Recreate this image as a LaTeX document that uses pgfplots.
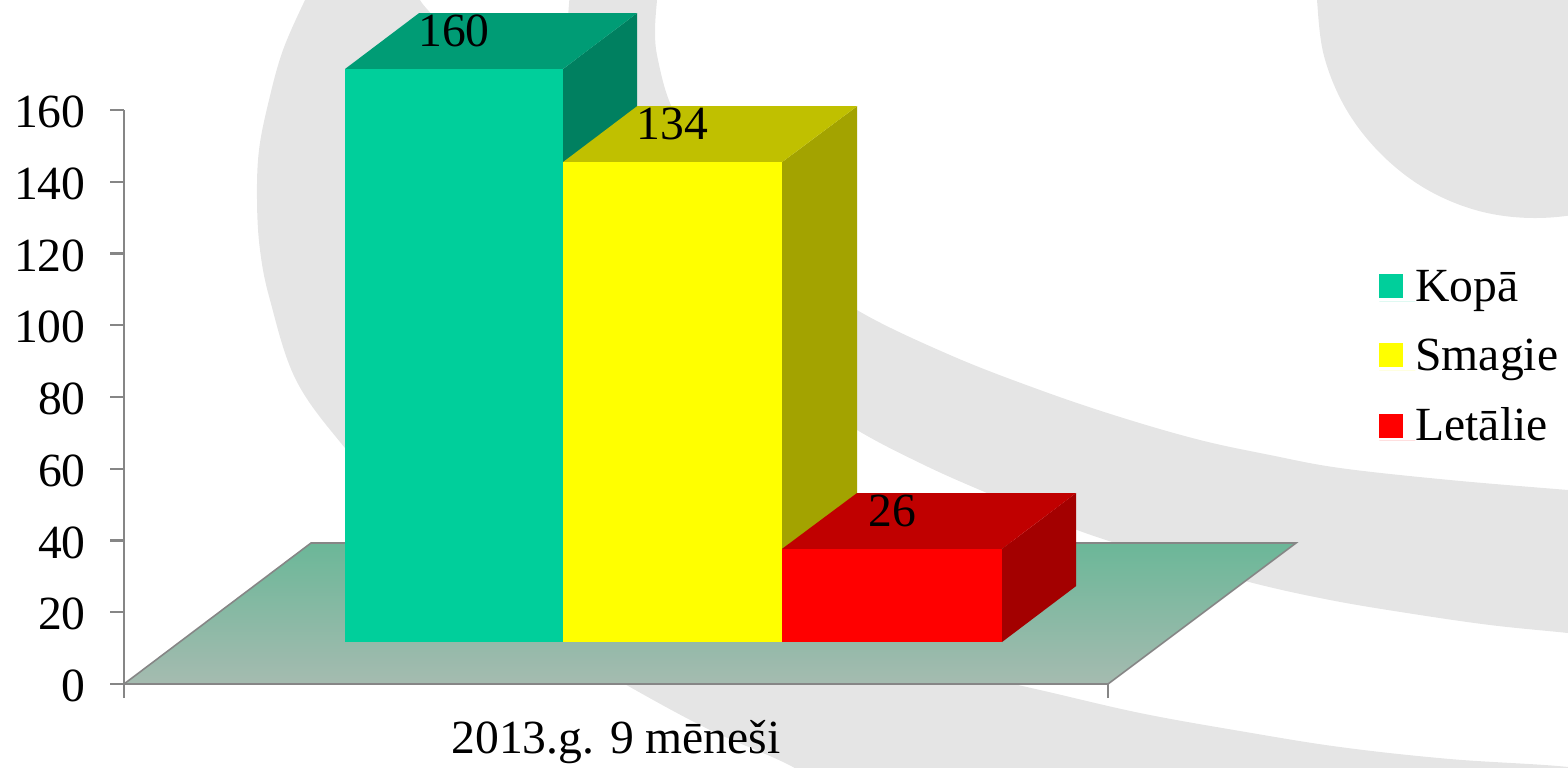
\documentclass[border=0pt]{standalone}
\usepackage{pgfplots}
\usepackage{fontspec}
\setmainfont{Liberation Serif}
\pgfplotsset{compat=1.18}

% colours
\definecolor{bggray}{HTML}{E5E5E5}
\definecolor{axgray}{HTML}{868686}
\definecolor{floortop}{HTML}{6BB798}
\definecolor{floorbot}{HTML}{A5BBB0}
\definecolor{kopa}{HTML}{00CF9B}
\definecolor{kopatop}{HTML}{009C75}
\definecolor{kopaside}{HTML}{008060}
\definecolor{smag}{HTML}{FFFF00}
\definecolor{smagtop}{HTML}{C0C000}
\definecolor{smagside}{HTML}{A3A300}
\definecolor{leta}{HTML}{FF0000}
\definecolor{letatop}{HTML}{C00000}
\definecolor{letaside}{HTML}{A30000}

\begin{document}
\fontsize{23.8}{28}\selectfont
\begin{tikzpicture}
\clip (0,0) rectangle (784pt,383.5pt);

% background swirl, in pixel coordinates of the picture
\begin{axis}[
    at={(0,0)}, anchor=south west, scale only axis,
    width=784pt, height=383.5pt,
    xmin=0, xmax=1568, ymin=0, ymax=767, y dir=reverse,
    axis lines=none, clip=false
  ]
  \addplot[fill=bggray, draw=none, smooth, tension=0.6] coordinates {
    (318,-25) (305,0) (283,50) (269,100) (259,150) (257,200) (260,250) (270,300)
    (296,380) (345,448) (410,520) (480,590) (550,640) (630,687) (710,730) (793,767) (860,810) (1300,830)
    (1620,778) (1568,767) (1450,759) (1340,747) (1240,731) (1140,713) (1040,690) (950,670)
    (800,640) (640,600) (500,300) (450,60) (420,0) (400,-25)} --cycle;
  \addplot[fill=bggray, draw=none, smooth, tension=0.6] coordinates {
    (572,-25) (572,100) (640,220) (700,300) (780,380) (857,430) (920,463) (980,490) (1077,530) (1165,558) (1253,583)
    (1330,600) (1407,613) (1490,625) (1568,633) (1630,640) (1630,495) (1568,490) (1450,480)
    (1340,468) (1270,455) (1200,440) (1120,417) (1040,390) (950,355) (857,310) (790,260) (730,200)
    (695,150) (670,103) (658,60) (655,33) (657,0) (660,-25)} --cycle;
  \addplot[fill=bggray, draw=none, smooth, tension=0.6] coordinates {
    (1317,-25) (1317,0) (1324,56) (1346,109) (1381,154) (1426,189) (1479,211)
    (1535,218) (1591,211) (1644,189) (1660,-25)} --cycle;
\end{axis}

% axes and floor
\begin{axis}[
    at={(62pt,41.5pt)}, anchor=south west, scale only axis,
    width=492pt, height=287pt,
    xmin=124, xmax=1108, ymin=0, ymax=160,
    clip=false,
    axis x line*=bottom, axis y line*=left,
    axis line style={draw=axgray, line width=1.2pt, -},
    tick style={draw=axgray, line width=1.2pt},
    tick align=outside, major tick length=7pt,
    /pgf/number format/assume math mode=true,
    ytick={0,20,...,160},
    xtick={124,1108}, xticklabels={},
    extra x ticks={616}, extra x tick labels={2013.g. 9 mēneši},
    extra x tick style={major tick length=0pt},
    yticklabel style={inner sep=0pt, xshift=-12pt, yshift=-1pt},
    xticklabel style={inner sep=0pt, yshift=-18pt}
  ]
  \addplot[draw=axgray, line width=0.8pt, top color=floortop, bottom color=floorbot]
    coordinates {(124,0) (311,39.3) (1296,39.3) (1108,0)} --cycle;
\end{axis}

% bars, their floor line is 42 px above the axis
\begin{axis}[
    at={(62pt,62.5pt)}, anchor=south west, scale only axis,
    width=492pt, height=286.5pt,
    xmin=124, xmax=1108, ymin=0, ymax=160,
    clip=false, axis lines=none,
    legend style={at={(axis cs:1379,104)}, anchor=north west, draw=none, fill=none,
      inner sep=0pt, row sep=15.2pt, nodes={inner sep=0pt, anchor=base west}},
    legend cell align=left,
    legend image code/.code={\fill[#1] (0pt,1.4pt) rectangle (12pt,13.4pt);\path (0pt,0pt) -- (18pt,0pt);}
  ]
  % Kopa
  \addplot[fill=kopaside, draw=none, forget plot] coordinates {(563,0) (637,15.6) (637,175.6) (563,160)} --cycle;
  \addplot[fill=kopatop, draw=none, forget plot] coordinates {(345,160) (419,175.6) (637,175.6) (563,160)} --cycle;
  \addplot[ybar, bar shift=0pt, bar width=109pt, fill=kopa, draw=none,
    nodes near coords, nodes near coords style={anchor=base, yshift=11.2pt, text=black, inner sep=0pt},
    /pgf/number format/assume math mode=true] coordinates {(454,160)};
  \addlegendentry{Kopā}
  % Smagie
  \addplot[fill=smagside, draw=none, forget plot] coordinates {(782,0) (857,15.6) (857,149.6) (782,134)} --cycle;
  \addplot[fill=smagtop, draw=none, forget plot] coordinates {(563,134) (637,149.6) (857,149.6) (782,134)} --cycle;
  \addplot[ybar, bar shift=0pt, bar width=109.5pt, fill=smag, draw=none,
    nodes near coords, nodes near coords style={anchor=base, yshift=11.2pt, text=black, inner sep=0pt},
    /pgf/number format/assume math mode=true] coordinates {(672.5,134)};
  \addlegendentry{Smagie}
  % Letalie
  \addplot[fill=letaside, draw=none, forget plot] coordinates {(1002,0) (1076,15.6) (1076,41.6) (1002,26)} --cycle;
  \addplot[fill=letatop, draw=none, forget plot] coordinates {(782,26) (857,41.6) (1076,41.6) (1002,26)} --cycle;
  \addplot[ybar, bar shift=0pt, bar width=110pt, fill=leta, draw=none,
    nodes near coords, nodes near coords style={anchor=base, yshift=11.2pt, text=black, inner sep=0pt},
    /pgf/number format/assume math mode=true] coordinates {(892,26)};
  \addlegendentry{Letālie}
\end{axis}
\end{tikzpicture}
\end{document}
